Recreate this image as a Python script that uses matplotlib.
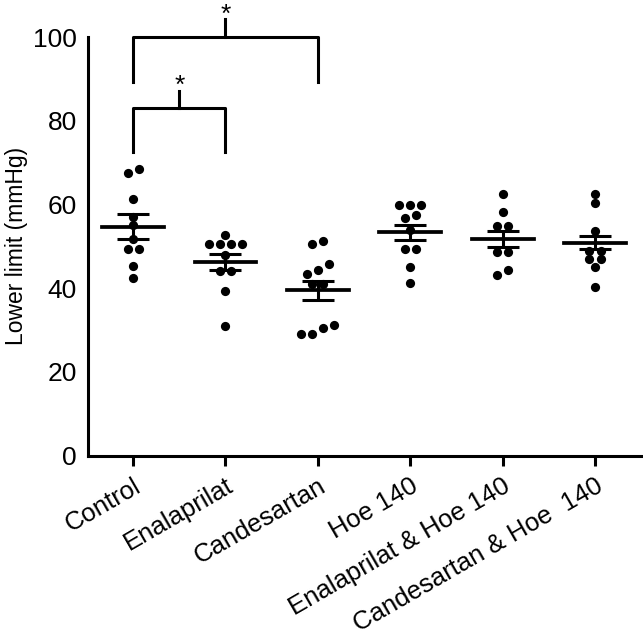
import numpy as np
import matplotlib.pyplot as plt

plt.rcParams['font.family'] = ['Liberation Sans', 'DejaVu Sans']

# Groups and individual values
groups = ['Control', 'Enalaprilat', 'Candesartan', 'Hoe 140',
          'Enalaprilat & Hoe 140', 'Candesartan & Hoe  140']
control = [68.4, 67.5, 61.2, 57.0, 55.0, 51.7, 49.4, 49.4, 45.3, 42.5]
enalaprilat = [52.6, 50.5, 50.5, 50.5, 50.5, 48.0, 44.1, 44.1, 39.3, 31.0]
candesartan = [51.3, 50.5, 45.7, 44.3, 43.5, 41.0, 41.0, 31.1, 30.4, 29.1, 29.1]
hoe140 = [59.9, 59.9, 59.9, 57.5, 56.7, 54.0, 49.3, 49.3, 45.1, 41.3]
enal_hoe = [62.4, 58.3, 54.9, 54.9, 48.6, 48.6, 44.3, 43.1]
cand_hoe = [62.4, 60.3, 53.7, 48.9, 48.9, 46.9, 46.9, 45.1, 40.4]
values = [control, enalaprilat, candesartan, hoe140, enal_hoe, cand_hoe]

# mean +/- SEM as drawn
means = [54.7, 46.2, 39.5, 53.4, 51.8, 50.9]
sems = [2.95, 1.9, 2.3, 1.8, 1.9, 1.65]

# significance brackets: (group a, group b, bar height, leg bottom)
brackets = [(1, 2, 83.0, 72.5), (1, 3, 100.0, 89.2)]


def spread(vals, thresh=1.7, step=0.12):
    # points with close values are laid side by side, centred on the group
    order = np.argsort(vals)
    offs = np.zeros(len(vals))
    cluster = [order[0]]
    for i in order[1:]:
        if vals[i] - vals[cluster[-1]] < thresh:
            cluster.append(i)
        else:
            for k, j in enumerate(cluster):
                offs[j] = (k - (len(cluster) - 1) / 2) * step
            cluster = [i]
    for k, j in enumerate(cluster):
        offs[j] = (k - (len(cluster) - 1) / 2) * step
    return offs


fig = plt.figure(figsize=(6.43, 6.39), dpi=100)
ax = fig.add_axes([0.137, 0.287, 0.863, 0.655])

lw = 2.2
for i, vals in enumerate(values):
    pos = i + 1
    vals = np.array(vals)
    ax.scatter(pos + spread(vals), vals, s=44, color='black', zorder=3, linewidths=0)
    ax.plot([pos - 0.335, pos + 0.335], [means[i], means[i]], color='black', lw=lw + 0.5, zorder=4)
    ax.errorbar(pos, means[i], yerr=sems[i], color='black', lw=lw, capsize=11.5,
                capthick=lw, zorder=4)

for a, b, h, low in brackets:
    ax.plot([a, a, b, b], [low, h, h, low], color='black', lw=lw, clip_on=False)
    mid = (a + b) / 2
    ax.plot([mid, mid], [h, h + 4.2], color='black', lw=lw, clip_on=False)
    ax.text(mid, h + 3.6, '*', ha='center', va='baseline', fontsize=19, clip_on=False)

ax.set_xlim(0.513, 6.52)
ax.set_ylim(0, 100)
ax.set_yticks([0, 20, 40, 60, 80, 100])
ax.set_xticks(range(1, 7))
ax.set_xticklabels(groups, rotation=30, ha='right', rotation_mode='anchor', fontsize=18.5)
ax.tick_params(axis='y', length=0, pad=8, labelsize=19)
ax.tick_params(axis='x', length=7, width=lw, pad=6)
ax.set_ylabel('Lower limit (mmHg)', fontsize=16.5, labelpad=4)

for s in ['top', 'right']:
    ax.spines[s].set_visible(False)
for s in ['left', 'bottom']:
    ax.spines[s].set_linewidth(lw)

fig.savefig('out.png', dpi=100)
